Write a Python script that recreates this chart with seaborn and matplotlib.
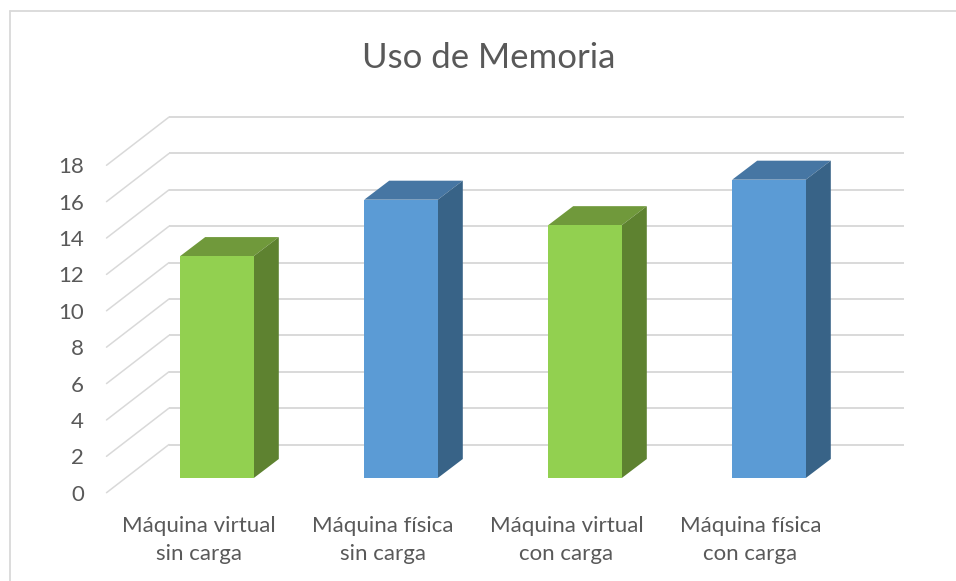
import matplotlib
matplotlib.use("Agg")
import matplotlib.pyplot as plt
import matplotlib.transforms as mtrans
from matplotlib.lines import Line2D
from matplotlib.patches import Polygon
import pandas as pd
import seaborn as sns

categories = ["Máquina virtual\nsin carga", "Máquina física\nsin carga",
              "Máquina virtual\ncon carga", "Máquina física\ncon carga"]
values = [12.2, 15.3, 13.9, 16.4]
y_ticks = list(range(0, 20, 2))
title = "Uso de Memoria"
front_colors = ["#92D050", "#5B9BD5", "#92D050", "#5B9BD5"]
top_colors = ["#70993B", "#4676A3", "#70993B", "#4676A3"]
side_colors = ["#5E8230", "#386387", "#5E8230", "#386387"]

W, H = 956, 581
GRID = "#D9D9D9"
TEXT = "#595959"

sns.set_theme(style="white")
plt.rcParams["font.family"] = ["Lato", "DejaVu Sans"]

fig = plt.figure(figsize=(W / 100, H / 100), dpi=100)
fig.patch.set_facecolor("white")

# Axes spans the plane of the bar front faces
PX_X, PX_Y = 184.0, 18.19
left_px, base_px = 125.0, 478.0
ax = fig.add_axes([left_px / W, 1 - base_px / H, 4 * PX_X / W, 18 * PX_Y / H])

df = pd.DataFrame({"cat": categories, "val": values})
sns.barplot(data=df, x="cat", y="val", hue="cat", palette=front_colors,
            dodge=False, legend=False, width=0.4, saturation=1, ax=ax, zorder=5,
            linewidth=0, edgecolor="none")
ax.set_xlim(-0.5, 3.5)
ax.set_ylim(0, 18)
ax.patch.set_alpha(0)
ax.set_xlabel("")
ax.set_ylabel("")
sns.despine(ax=ax, left=True, bottom=True)

# Depth offsets converted to data units
fx, fy = -18.5 / PX_X, -14.7 / PX_Y   # front of floor
bx, by = 44.0 / PX_X, 33.5 / PX_Y     # back wall
sx, sy = 25.0 / PX_X, 19.0 / PX_Y     # bar depth
x0, x1 = ax.get_xlim()
for v in y_ticks:
    ax.plot([x0 + fx, x0 + bx], [v + fy, v + by], color=GRID, lw=1.1,
            clip_on=False, zorder=1, solid_capstyle="round")
    ax.plot([x0 + bx, x1 + bx - 1.0 / PX_X], [v + by, v + by], color=GRID, lw=1.4,
            clip_on=False, zorder=1, solid_capstyle="butt")

for bar, tc, sc in zip(ax.patches, top_colors, side_colors):
    a, w, h = bar.get_x(), bar.get_width(), bar.get_height()
    ax.add_patch(Polygon([(a, h), (a + w, h), (a + w + sx, h + sy), (a + sx, h + sy)],
                         closed=True, fc=tc, ec="none", clip_on=False, zorder=4))
    ax.add_patch(Polygon([(a + w, 0), (a + w + sx, sy), (a + w + sx, h + sy), (a + w, h)],
                         closed=True, fc=sc, ec="none", clip_on=False, zorder=4))

ax.set_yticks(y_ticks)
ax.set_yticklabels([str(t) for t in y_ticks])
ax.tick_params(axis="y", length=0, pad=29.5, labelsize=16, labelcolor=TEXT)
ax.tick_params(axis="x", length=0, pad=27, labelsize=16, labelcolor=TEXT)
for lab in ax.get_yticklabels():
    lab.set_transform(lab.get_transform() + mtrans.Affine2D().translate(0, -14.7))
for lab in ax.get_xticklabels():
    lab.set_transform(lab.get_transform() + mtrans.Affine2D().translate(-18.5, 0))
    lab.set_linespacing(1.5)

fig.text(489 / W, 1 - 58 / H, title, ha="center", va="center",
         fontsize=25, color=TEXT)

# Chart frame: only top and left edges are in view
fig.add_artist(Line2D([10 / W, 10 / W], [0, 1 - 11 / H], color=GRID, lw=1.3))
fig.add_artist(Line2D([10 / W, 1], [1 - 11 / H, 1 - 11 / H], color=GRID, lw=1.3))

fig.savefig("out.png", dpi=100, facecolor="white")
